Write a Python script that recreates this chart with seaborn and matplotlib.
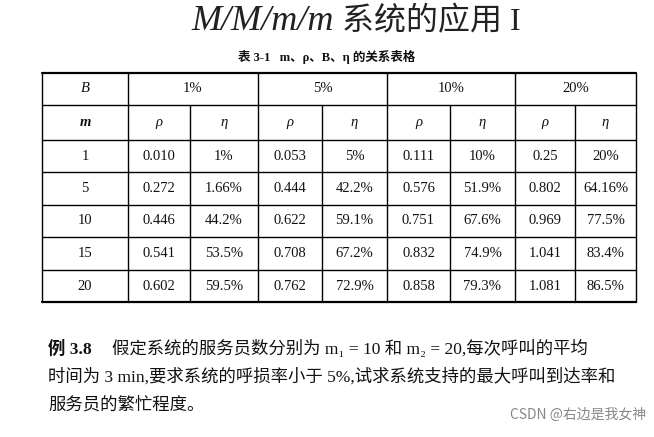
import matplotlib
matplotlib.use("Agg")
import matplotlib.pyplot as plt
import seaborn as sns

sns.set_theme(style="white")
FAM = ["Liberation Serif", "Noto Sans CJK SC"]

B_labels = ["1%", "5%", "10%", "20%"]
m_values = ["1", "5", "10", "15", "20"]
rho_1 = ["0.010", "0.272", "0.446", "0.541", "0.602"]
eta_1 = ["1%", "1.66%", "44.2%", "53.5%", "59.5%"]
rho_5 = ["0.053", "0.444", "0.622", "0.708", "0.762"]
eta_5 = ["5%", "42.2%", "59.1%", "67.2%", "72.9%"]
rho_10 = ["0.111", "0.576", "0.751", "0.832", "0.858"]
eta_10 = ["10%", "51.9%", "67.6%", "74.9%", "79.3%"]
rho_20 = ["0.25", "0.802", "0.969", "1.041", "1.081"]
eta_20 = ["20%", "64.16%", "77.5%", "83.4%", "86.5%"]

fig = plt.figure(figsize=(6.54, 4.37), dpi=100)
ax = fig.add_axes([0, 0, 1, 1])
ax.set_xlim(0, 654); ax.set_ylim(437, 0); ax.axis("off")

ax.text(334, 22, "M/M/m/m", ha="right", va="center", fontsize=26, family=FAM, style="italic", color="#222")
ax.text(342, 22, "系统的应用 I", ha="left", va="center", fontsize=23, family=FAM, color="#222")
ax.text(327, 57, "表 3-1   m、ρ、B、η 的关系表格",
        ha="center", va="center", fontsize=9, family=FAM, weight="bold", color="#111")

xs = [42, 128, 190, 258, 322, 387, 450, 515, 575, 636]
ys = [73, 105, 140, 172, 205, 237, 270, 302]
lw = 1.0
for y in ys:
    ax.plot([xs[0], xs[-1]], [y, y], color="black", lw=1.6 if y in (ys[0], ys[-1]) else lw)
for i, x in enumerate(xs):
    y0 = ys[0] if i in (0, 1, 3, 5, 7, 9) else ys[1]
    ax.plot([x, x], [y0, ys[-1]], color="black", lw=lw)

def cx(i):
    return (xs[i] + xs[i + 1]) / 2
def cy(j):
    return (ys[j] + ys[j + 1]) / 2

tk = dict(ha="center", va="center", fontsize=10.5, family=FAM, color="#111")
ax.text(cx(0), cy(0), "B", style="italic", **tk)
ax.text(cx(0), cy(1), "m", style="italic", weight="bold", **tk)
for g, b in enumerate(B_labels):
    ax.text((xs[1 + 2 * g] + xs[3 + 2 * g]) / 2, cy(0), b, **tk)
    ax.text(cx(1 + 2 * g), cy(1), "ρ", style="italic", **tk)
    ax.text(cx(2 + 2 * g), cy(1), "η", style="italic", **tk)
cols = [rho_1, eta_1, rho_5, eta_5, rho_10, eta_10, rho_20, eta_20]
for r, m in enumerate(m_values):
    ax.text(cx(0), cy(2 + r), m, **tk)
    for c, col in enumerate(cols):
        ax.text(cx(1 + c), cy(2 + r), col[r], **tk)

bt = dict(ha="left", va="center", fontsize=12.5, family=FAM, color="#111")
ax.text(48, 349, "例 3.8", weight="bold", **bt)
ax.text(112, 349, "假定系统的服务员数分别为 m₁ = 10 和 m₂ = 20,每次呼叫的平均", **bt)
ax.text(48, 377, "时间为 3 min,要求系统的呼损率小于 5%,试求系统支持的最大呼叫到达率和", **bt)
ax.text(48, 405, "服务员的繁忙程度。", **bt)
ax.text(646, 415, "CSDN @右边是我女神", ha="right", va="center", fontsize=10, family=["Noto Sans CJK SC"], color="#888")

fig.savefig("out.png", dpi=100)
